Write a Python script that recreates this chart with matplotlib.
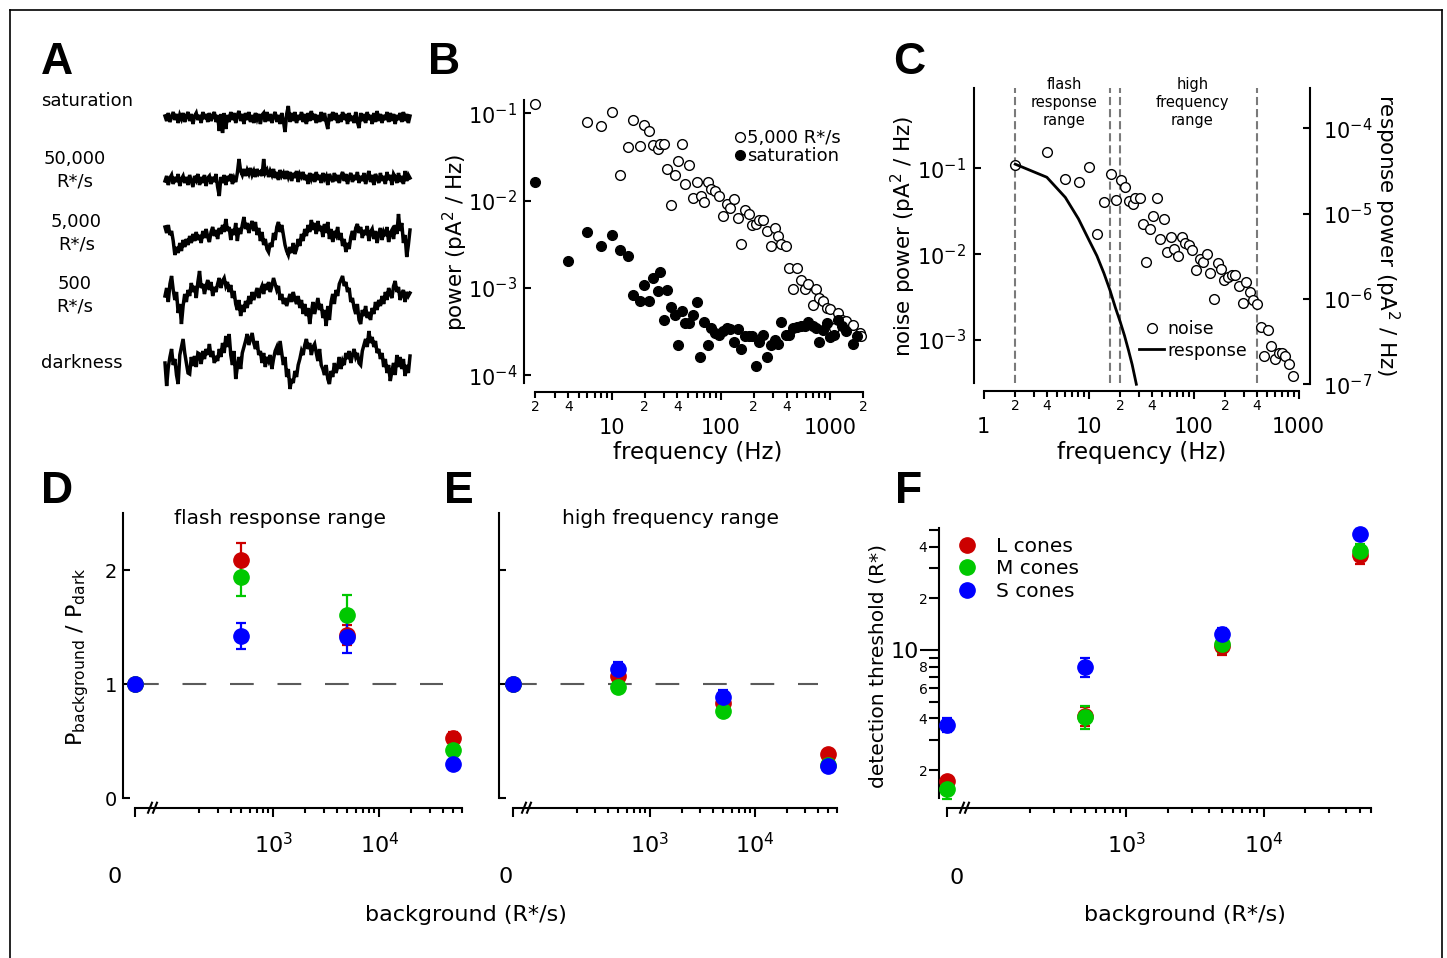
import numpy as np
import matplotlib
matplotlib.use('Agg')
import matplotlib.pyplot as plt
from matplotlib.lines import Line2D
from matplotlib.ticker import FixedLocator, FixedFormatter, NullFormatter, NullLocator

# ------------------------------------------------------------------ data
# Panel A: current traces (deflection in pixels)
trace_labels = ['saturation', '50,000\nR*/s', '5,000\nR*/s', '500\nR*/s', 'darkness']
trace_saturation = [2, -3, 5, -4, 1, 6, -2, 4, -5, 3, -1, 5, -4, 2, 6,
                    -3, 4, -6, 2, 5, -2, 3, -5, 6, -1, 4, -4, 5, -3, 2,
                    6, -4, 3, -13, 4, -15, 5, -11, 3, -4, 6, -2, 5, -5, 3,
                    7, -3, 4, -6, 5, -2, 6, -4, 3, -5, 5, -1, 4, -6, 3,
                    5, -4, 6, -3, 4, -5, 2, 6, -4, 3, -6, 5, -3, -14, 4,
                    12, -4, 5, -3, 6, -5, 3, -2, 6, -4, 4, -6, 5, -3, 7,
                    -2, 4, -5, 3, -4, 6, -3, 5, -4, -11, 4, -3, 6, -2, 5,
                    -5, 3, -4, 6, -2, 4, -6, 5, -3, 2, -5, 6, -4, -10, 5,
                    -3, 4, -5, 6, -2, 3, -6, 5, -4, 7, -3, 4, -5, 3, -2,
                    6, -4, 5, -3, 4, -6, 3, -2, 5, -4, 6, -3, 4, -5, 2]
trace_50000 = [-2, 3, -6, 1, 4, -5, 2, -3, 5, -7, 0, 3, -4, 2, -6,
               4, -2, -8, 3, -1, 5, -6, 2, -4, 4, -7, 1, 3, -5, 2,
               -3, 5, -8, -17, 2, -4, 4, -6, 3, -2, 5, -5, 1, -3, 6,
               20, 8, 4, 10, 3, 9, 5, 11, 4, 8, 2, 10, 5, 7, 3,
               20, 6, 9, 2, 8, 4, 10, 1, 7, -1, 9, 3, 6, 0, 8,
               2, 7, -2, 6, 1, 8, -3, 5, 2, 7, -1, 4, -5, 6, 0,
               5, -3, 7, -1, 4, -4, 6, 0, 3, -6, 5, 1, -3, 6, -2,
               4, -4, 3, 7, -2, 5, -5, 2, 6, -3, 4, -1, 7, -4, 3,
               -2, 6, -5, 2, 8, -3, 4, -6, 5, 1, -4, 6, -2, 3, -5,
               7, -1, 4, -6, 5, 2, -4, 6, -3, 3, -5, 8, -2, 4, 1]
trace_5000 = [10, 4, 12, 2, 6, -4, -18, -10, -16, -6, -14, -3,
              -10, -2, -8, 1, -6, 3, -4, 5, -3, 2, -6, 6,
              -1, 8, 0, -5, 5, 10, 1, 7, -2, 9, 3, 12,
              5, 18, 6, 10, -3, 8, 2, 14, -4, 9, 3, 12,
              20, 8, 14, 4, 11, 16, 6, 15, 2, 9, -4, 5,
              -8, -2, -12, -15, -6, -10, 4, -3, 10, 15, 5, 12,
              2, -8, -14, -18, -10, -16, -6, -17, -12, -2, -9, 3,
              -4, 8, 1, 12, 5, 17, 7, 14, 3, 16, 6, 11,
              0, 13, 4, 15, -2, 8, -5, 6, 2, 10, -3, 4,
              -9, -2, -15, -6, -12, 0, 6, -3, 9, 13, 4, 10,
              -1, 7, 2, 11, -4, 5, 8, -2, 6, -6, 3, 9,
              -3, 5, 1, 10, -5, 4, 7, -2, 12, 3, 23, 6,
              14, -6, 2, -20, -8, 7]
trace_500 = [0, 8, -6, 12, 20, 6, -4, 4, -17, -8, -28, -10,
             2, -6, 6, 0, 13, 4, 10, -2, 14, 25, 8, 12,
             2, 10, 16, 6, 14, 0, 9, 4, 12, 18, 8, 15,
             18, 10, 14, 4, 11, -2, 5, -8, -14, -4, -20, -9,
             -16, -5, -12, 0, -8, 4, -4, 2, 8, -2, 6, 10,
             2, 12, 6, 14, 4, 10, 18, 12, 6, 10, -4, 2,
             -8, -2, -10, -4, 2, -6, 4, -3, -8, 0, -12, -4,
             -18, -8, -20, -12, -28, -16, -6, -18, -10, -2, -14, -8,
             -22, -14, -30, -10, -24, -6, 2, -8, 6, 0, 12, 16,
             20, 10, 14, 4, 8, -6, -2, -12, -18, -8, -24, -28,
             -14, -20, -10, -22, -16, -24, -12, -18, -6, -14, -4, -10,
             0, -8, 4, -4, 8, 2, -2, 10, 15, 4, 9, -4,
             2, 6, -6, 4, 0, 3]
trace_dark = [-2, -25, -6, 4, 12, -4, 2, -14, -23, 6, 14, 22,
              8, -2, -12, -13, 4, -5, 5, -6, 8, 7, -3, 10,
              2, 12, 6, 17, 4, 10, -2, 5, 0, 12, 4, 18,
              8, 25, 14, 27, 6, -4, 10, -18, -6, 4, -8, 8,
              14, 20, 27, 16, 22, 28, 18, 12, 20, 6, 10, -2,
              8, -6, 4, 0, 6, -8, 2, 10, 14, 6, 20, 8,
              -4, 4, -16, -8, -28, -18, -22, -10, -16, -4, 2, 10,
              6, 16, 22, 12, 18, 6, 14, 17, 8, 0, 12, -4,
              -8, -14, -4, -18, -23, -10, -16, -2, -12, -6, 4, -8,
              0, -4, 8, 2, 10, -2, 6, 12, 4, 8, -2, -4,
              10, 16, 22, 14, 30, 18, 24, 14, 20, 8, 12, 2,
              8, -6, 2, -12, -4, -20, -10, -2, -14, 6, -6, 4,
              -8, 2, -15, -4, -12, 5]

# Panel B: power spectra
b_freq_5000 = [2, 6, 8, 10, 11.9, 14, 15.8, 18, 19.8, 22, 24, 26.3, 27.7, 30.3, 31.9,
               34.9, 38, 40.7, 44.3, 46.9, 51.4, 55.5, 60, 65.3, 70, 75.5, 81, 88, 96, 104,
               113, 121, 132, 142, 153, 166, 181, 194, 209, 225, 244, 266, 287, 312, 334,
               358, 393, 422, 458, 493, 538, 588, 632, 692, 738, 798, 856, 930, 1000, 1086,
               1170, 1276, 1395, 1618, 1880, 1900]
b_pow_5000 = [0.127, 0.079, 0.072, 0.105, 0.0196, 0.041, 0.085, 0.042, 0.073, 0.062,
              0.043, 0.039, 0.045, 0.044, 0.0228, 0.0088, 0.0199, 0.0285, 0.045, 0.0153,
              0.0256, 0.0107, 0.0165, 0.0113, 0.0097, 0.0165, 0.0136, 0.013, 0.0114, 0.0067,
              0.0091, 0.0083, 0.0104, 0.0063, 0.0032, 0.0079, 0.0071, 0.0052, 0.0054, 0.006,
              0.006, 0.0045, 0.003, 0.0049, 0.0039, 0.0032, 0.003, 0.0017, 0.00096, 0.0017,
              0.00123, 0.00096, 0.0011, 0.00064, 0.00098, 0.00076, 0.00071, 0.00059, 0.00057,
              0.00035, 0.00052, 0.00043, 0.00042, 0.00038, 0.0003, 0.00028]
b_freq_sat = [2, 4, 6, 8, 10, 11.9, 14, 15.8, 18, 19.9, 22, 24.1, 26.3, 27.7, 30.3, 31.9,
              34.9, 38, 40.7, 44.3, 46.9, 51, 55.5, 60, 65, 70, 75.5, 81, 88, 96, 104, 113,
              121, 132, 142, 153, 166, 181, 194, 209, 225, 244, 266, 287, 312, 334, 358, 393,
              422, 458, 493, 538, 588, 632, 692, 738, 798, 856, 930, 1000, 1086, 1170, 1276,
              1395, 1618, 1760]
b_pow_sat = [0.0165, 0.00205, 0.0044, 0.003, 0.004, 0.0027, 0.0023, 0.00083, 0.0007,
             0.00107, 0.0007, 0.0013, 0.00093, 0.0015, 0.00043, 0.00094, 0.00061, 0.00049,
             0.00022, 0.00055, 0.0004, 0.0004, 0.00049, 0.00068, 0.00016, 0.00041, 0.00022,
             0.00035, 0.0003, 0.00029, 0.00032, 0.00035, 0.00034, 0.00024, 0.00034, 0.0002,
             0.00028, 0.00028, 0.00028, 0.000127, 0.00024, 0.00029, 0.00016, 0.00022,
             0.00025, 0.00023, 0.00041, 0.00029, 0.00029, 0.00035, 0.00036, 0.00037,
             0.00037, 0.00041, 0.00037, 0.00035, 0.00024, 0.00033, 0.0004, 0.00027, 0.00029,
             0.00043, 0.00037, 0.00032, 0.00023, 0.00028]

# Panel C: noise vs response spectra
c_freq_noise = [2.0, 4.03, 5.97, 8.07, 10.1, 12.1, 14.1, 16.2, 18.1, 20.4, 22.2, 24.3, 26.3,
                27.9, 30.6, 32.7, 35.3, 38.7, 41.1, 44.6, 48.1, 52, 56.3, 60.9, 65.8, 71, 78,
                83, 90, 97, 105, 114, 123, 133, 144, 156, 169, 183, 197, 213, 231, 250, 271,
                293, 317, 344, 372, 403, 435, 472, 509, 551, 595, 645, 700, 750, 810, 890]
c_pow_noise = [0.109, 0.156, 0.075, 0.07, 0.102, 0.0172, 0.04, 0.086, 0.043, 0.072, 0.061,
               0.042, 0.038, 0.045, 0.045, 0.0223, 0.0082, 0.0195, 0.028, 0.045, 0.015,
               0.0255, 0.0105, 0.016, 0.0114, 0.0095, 0.016, 0.0134, 0.0128, 0.0112, 0.0065,
               0.0087, 0.008, 0.0101, 0.006, 0.003, 0.0078, 0.0068, 0.005, 0.0054, 0.0057,
               0.0057, 0.0043, 0.0027, 0.0047, 0.0036, 0.0029, 0.0026, 0.0014, 0.00065,
               0.0013, 0.00086, 0.0006, 0.0007, 0.0007, 0.00066, 0.00053, 0.00038]
c_freq_resp = [2, 4, 6, 8, 10, 12, 14, 16, 18, 20, 22, 24, 26, 28.5]
c_pow_resp = [3.8e-5, 2.67e-5, 1.55e-5, 8.7e-6, 5.0e-6, 3.2e-6, 2.0e-6, 1.26e-6, 7.9e-7,
              5.4e-7, 3.7e-7, 2.5e-7, 1.7e-7, 1.0e-7]
c_band_edges = [2, 16, 20, 400]

# Panels D-F
background = [0, 500, 5000, 50000]
cone_names = ['L cones', 'M cones', 'S cones']
cone_colors = ['#cc0000', '#00c800', '#0000ff']
d_ratio = {'L cones': [1.0, 2.09, 1.43, 0.53], 'M cones': [1.0, 1.94, 1.61, 0.42],
           'S cones': [1.0, 1.425, 1.41, 0.30]}
d_err = {'L cones': [0, 0.15, 0.09, 0.05], 'M cones': [0, 0.165, 0.17, 0.04],
         'S cones': [0, 0.115, 0.14, 0.04]}
e_ratio = {'L cones': [1.0, 1.074, 0.838, 0.388], 'M cones': [1.0, 0.972, 0.765, 0.29],
           'S cones': [1.0, 1.133, 0.89, 0.286]}
e_err = {'L cones': [0, 0.03, 0.03, 0.02], 'M cones': [0, 0.02, 0.02, 0.02],
         'S cones': [0, 0.065, 0.06, 0.02]}
f_thresh = {'L cones': [1.73, 4.13, 10.5, 35.7], 'M cones': [1.55, 4.09, 10.9, 37.8],
            'S cones': [3.66, 7.93, 12.35, 47.4]}
f_err = {'L cones': [0.07, 0.53, 1.2, 4.0], 'M cones': [0.19, 0.63, 1.3, 3.5],
         'S cones': [0.35, 1.0, 1.05, 3.6]}

# ------------------------------------------------------------------ layout
W, H, DPI = 1447, 958, 100
DARK_X = 50  # position used for the "0" background on the log axis

plt.rcParams['font.family'] = ['DejaVu Sans']
plt.rcParams['mathtext.default'] = 'regular'
plt.rcParams['axes.linewidth'] = 1.5

fig = plt.figure(figsize=(W / DPI, H / DPI), dpi=DPI)


def add_ax(l, t, r, b):
    return fig.add_axes([l / W, 1 - b / H, (r - l) / W, (b - t) / H])


def ftext(x, y, s, **kw):
    kw.setdefault('ha', 'center')
    kw.setdefault('va', 'center')
    return fig.text(x / W, 1 - y / H, s, **kw)


def fline(xs, ys, **kw):
    fig.add_artist(Line2D([x / W for x in xs], [1 - y / H for y in ys], **kw))


# outer frame
fline([10, 10], [958, 10], color='k', lw=1.2)
fline([10, 1441.5], [10, 10], color='k', lw=1.2)
fline([1441.5, 1441.5], [10, 958], color='k', lw=1.2)

# panel letters
for let, (x, y) in zip('ABCDEF', [(41, 74), (428, 74), (893, 74), (41, 503), (444, 503), (895, 503)]):
    ftext(x, y, let, ha='left', va='baseline', fontsize=32, fontweight='bold',
          family='Liberation Sans')

# ------------------------------------------------------------------ A
axA = add_ax(160, 95, 415, 400)
axA.set_xlim(160, 415)
axA.set_ylim(400, 95)
axA.axis('off')
traces = [trace_saturation, trace_50000, trace_5000, trace_500, trace_dark]
baselines = [118, 179, 237, 296, 361]
for vals, base in zip(traces, baselines):
    xs = np.linspace(165, 410, len(vals))
    axA.plot(xs, base - np.asarray(vals), color='k', lw=2.5, solid_joinstyle='miter')
ftext(41.5, 101.5, trace_labels[0], ha='left', fontsize=13)
for lab, (x, y) in zip(trace_labels[1:4], [(75, 170), (76.5, 233), (75, 295)]):
    ftext(x, y, lab, fontsize=13, linespacing=1.35)
ftext(41.5, 363, trace_labels[4], ha='left', fontsize=13)


def decade_minor(decs, extra=()):
    ticks, labs = [], []
    for e in decs:
        for m in range(2, 10):
            ticks.append(m * 10 ** e)
            labs.append(str(m) if m in (2, 4) else '')
    for t in extra:
        ticks.append(t)
        labs.append(str(int(round(t / 10 ** np.floor(np.log10(t))))))
    return ticks, labs


def style_freq_axis(ax, majors, major_labels, minors, minor_labels):
    ax.xaxis.set_major_locator(FixedLocator(majors))
    ax.xaxis.set_major_formatter(FixedFormatter(major_labels))
    ax.xaxis.set_minor_locator(FixedLocator(minors))
    ax.xaxis.set_minor_formatter(FixedFormatter(minor_labels))
    ax.tick_params(axis='x', which='major', direction='out', length=6, width=1.5,
                   pad=13, labelsize=15)
    ax.tick_params(axis='x', which='minor', direction='out', length=4, width=1.5,
                   pad=2, labelsize=10)


# ------------------------------------------------------------------ B
axB = add_ax(524.3, 100, 863, 391.7)
axB.set_xscale('log')
axB.set_yscale('log')
axB.set_xlim(10 ** 0.2, 2002)
axB.set_ylim(10 ** -4.19, 10 ** -0.847)
for s in ('top', 'right'):
    axB.spines[s].set_visible(False)
axB.spines['left'].set_bounds(10 ** -4.09, 10 ** -0.847)
axB.spines['bottom'].set_bounds(2, 2000)
axB.plot(b_freq_5000, b_pow_5000, 'o', mfc='white', mec='k', ms=7, mew=1, clip_on=False)
axB.plot(b_freq_sat, b_pow_sat, 'o', color='k', ms=7, clip_on=False)
mt, ml = decade_minor([0, 1, 2], extra=[2000])
style_freq_axis(axB, [10, 100, 1000], ['10', '100', '1000'], mt, ml)
axB.yaxis.set_major_locator(FixedLocator([1e-4, 1e-3, 1e-2, 1e-1]))
axB.yaxis.set_major_formatter(FixedFormatter(['$10^{-4}$', '$10^{-3}$', '$10^{-2}$', '$10^{-1}$']))
axB.yaxis.set_minor_locator(NullLocator())
axB.tick_params(axis='y', direction='in', length=5.3, width=1.5, pad=5, labelsize=15)
axB.legend(handles=[Line2D([], [], ls='none', marker='o', mfc='white', mec='k', ms=7),
                    Line2D([], [], ls='none', marker='o', color='k', ms=7)],
           labels=['5,000 R*/s', 'saturation'], loc='center left',
           bbox_to_anchor=(735.5 / W, 1 - 147 / H), bbox_transform=fig.transFigure,
           frameon=False, fontsize=13, handlelength=0.5, handletextpad=0.15,
           labelspacing=0.0, borderpad=0, borderaxespad=0)
ftext(455, 242, 'power (pA$^2$ / Hz)', rotation=90, fontsize=15.5)
ftext(698, 452, 'frequency (Hz)', fontsize=16.5)

# ------------------------------------------------------------------ C
axC = add_ax(973.9, 88.3, 1309.6, 391)
axC.set_xscale('log')
axC.set_yscale('log')
axC.set_xlim(0.808, 1274)
axC.set_ylim(10 ** -3.593, 10 ** -0.070)
for s in ('top', 'right'):
    axC.spines[s].set_visible(False)
axC.spines['left'].set_bounds(10 ** -3.503, 10 ** -0.070)
axC.spines['bottom'].set_bounds(1, 1000)
for fe in c_band_edges:
    axC.axvline(fe, ymin=0.026, ymax=1, color='#7a7a7a', lw=1.5, dashes=(3.9, 1.9), zorder=1)
axC.plot(c_freq_noise, c_pow_noise, 'o', mfc='white', mec='k', ms=7, mew=1, zorder=3)
mt, ml = decade_minor([0, 1, 2])
style_freq_axis(axC, [1, 10, 100, 1000], ['1', '10', '100', '1000'], mt, ml)
axC.yaxis.set_major_locator(FixedLocator([1e-3, 1e-2, 1e-1]))
axC.yaxis.set_major_formatter(FixedFormatter(['$10^{-3}$', '$10^{-2}$', '$10^{-1}$']))
axC.yaxis.set_minor_locator(NullLocator())
axC.tick_params(axis='y', direction='in', length=5.3, width=1.5, pad=6, labelsize=15)

axC2 = axC.twinx()
axC2.set_yscale('log')
axC2.set_ylim(10 ** -7.079, 10 ** -3.531)
for s in ('top', 'left', 'bottom'):
    axC2.spines[s].set_visible(False)
axC2.spines['right'].set_bounds(1e-7, 10 ** -3.531)
axC2.plot(c_freq_resp, c_pow_resp, color='k', lw=2)
axC2.yaxis.set_major_locator(FixedLocator([1e-7, 1e-6, 1e-5, 1e-4]))
axC2.yaxis.set_major_formatter(FixedFormatter(['$10^{-7}$', '$10^{-6}$', '$10^{-5}$', '$10^{-4}$']))
axC2.yaxis.set_minor_locator(NullLocator())
axC2.tick_params(axis='y', direction='in', length=5.3, width=1.5, pad=10, labelsize=15)
axC2.legend(handles=[Line2D([], [], ls='none', marker='o', mfc='white', mec='k', ms=7),
                     Line2D([], [], color='k', lw=2)],
            labels=['noise', 'response'], loc='center left',
            bbox_to_anchor=(1139 / W, 1 - 340 / H), bbox_transform=fig.transFigure,
            frameon=False, fontsize=12.5, handlelength=1.44, handletextpad=0.2,
            labelspacing=0.18, borderpad=0, borderaxespad=0)
ftext(1064, 102.7, 'flash\nresponse\nrange', fontsize=10.5, linespacing=1.25)
ftext(1192.5, 102.7, 'high\nfrequency\nrange', fontsize=10.5, linespacing=1.25)
ftext(903, 236, 'noise power (pA$^2$ / Hz)', rotation=90, fontsize=15.5)
ftext(1387, 235, 'response power (pA$^2$ / Hz)', rotation=270, fontsize=15.5)
ftext(1142, 452, 'frequency (Hz)', fontsize=16.5)

# ------------------------------------------------------------------ D, E, F
xpos = [DARK_X if b == 0 else b for b in background]
bg_minor = [m * 10 ** e for e in (2, 3) for m in range(2, 10)] + [2e4, 3e4, 4e4, 5e4, 6e4]


def bg_axis(ax, xl, xr):
    ax.set_xscale('log')
    ax.set_xlim(xl, xr)
    for s in ('top', 'right'):
        ax.spines[s].set_visible(False)
    ax.spines['bottom'].set_bounds(DARK_X, 6e4)
    ax.xaxis.set_major_locator(FixedLocator([DARK_X, 1e3, 1e4]))
    ax.xaxis.set_major_formatter(FixedFormatter(['', '$10^3$', '$10^4$']))
    ax.xaxis.set_minor_locator(FixedLocator(bg_minor))
    ax.xaxis.set_minor_formatter(NullFormatter())
    ax.tick_params(axis='x', which='major', direction='out', length=6.5, width=1.5,
                   pad=11, labelsize=16)
    ax.tick_params(axis='x', which='minor', direction='out', length=3.6, width=1.5)


def break_marks(x_px, y_px=807.7):
    for dx in (0, 5):
        fline([x_px + dx, x_px + dx + 4], [y_px + 5, y_px - 5], color='k', lw=1.5)


def ratio_panel(ax, vals, errs, xl, xr, show_labels):
    bg_axis(ax, xl, xr)
    ax.set_ylim(-0.082, 2.497)
    ax.spines['left'].set_bounds(0, 2.497)
    ax.hlines(1, DARK_X, 4e4, colors='#5a5a5a', lw=1.5, linestyles=(0, (11.4, 11.4)), zorder=1)
    for name, col in zip(cone_names, cone_colors):
        ax.errorbar(xpos, vals[name], yerr=errs[name], fmt='o', color=col, ms=11,
                    elinewidth=1.6, capsize=3.6, capthick=1.6, clip_on=False, zorder=3)
    ax.yaxis.set_major_locator(FixedLocator([0, 1, 2]))
    ax.yaxis.set_major_formatter(FixedFormatter(['0', '1', '2'] if show_labels else ['', '', '']))
    ax.tick_params(axis='y', direction='in', length=5.3, width=1.5, pad=4, labelsize=14)


axD = add_ax(122.7, 513.3, 462.7, 807.7)
ratio_panel(axD, d_ratio, d_err, 10 ** 1.579, 10 ** 4.787, True)
axE = add_ax(498.7, 513.3, 839, 807.7)
ratio_panel(axE, e_ratio, e_err, 10 ** 1.559, 10 ** 4.8, False)
break_marks(148)
break_marks(522)
ftext(280, 518, 'flash response range', fontsize=14.5)
ftext(671, 518, 'high frequency range', fontsize=14.5)
ftext(78, 657, 'P$_{background}$ / P$_{dark}$', rotation=90, fontsize=16)
ftext(465.5, 915, 'background (R*/s)', fontsize=16)
ftext(115, 877, '0', fontsize=16)
ftext(505.7, 877, '0', fontsize=16)

axF = add_ax(939.3, 528.3, 1373.6, 807.7)
bg_axis(axF, 10 ** 1.641, 10 ** 4.8)
axF.set_yscale('log')
axF.set_ylim(10 ** 0.0815, 10 ** 1.709)
axF.spines['left'].set_bounds(10 ** 0.136, 10 ** 1.709)
for name, col in zip(cone_names, cone_colors):
    axF.errorbar(xpos, f_thresh[name], yerr=f_err[name], fmt='o', color=col, ms=11,
                 elinewidth=1.6, capsize=3.6, capthick=1.6, clip_on=False, zorder=3)
axF.yaxis.set_major_locator(FixedLocator([10]))
axF.yaxis.set_major_formatter(FixedFormatter(['10']))
f_minor = [2, 3, 4, 5, 6, 7, 8, 9, 20, 30, 40, 50]
axF.yaxis.set_minor_locator(FixedLocator(f_minor))
axF.yaxis.set_minor_formatter(FixedFormatter(['2', '', '4', '', '6', '', '8', '', '2', '', '4', '']))
axF.tick_params(axis='y', which='major', direction='out', length=14, width=1.5, pad=1, labelsize=16)
axF.tick_params(axis='y', which='minor', direction='out', length=7, width=1.5, pad=1.5, labelsize=10)
break_marks(960)
axF.legend(handles=[Line2D([], [], ls='none', marker='o', color=c, ms=11) for c in cone_colors],
           labels=cone_names, loc='center left',
           bbox_to_anchor=(957 / W, 1 - 568.7 / H), bbox_transform=fig.transFigure,
           frameon=False, fontsize=14.5, handlelength=1.0, handletextpad=0.93,
           labelspacing=0.18, borderpad=0, borderaxespad=0)
ftext(878, 666, 'detection threshold (R*)', rotation=90, fontsize=14.6)
ftext(1185, 915, 'background (R*/s)', fontsize=16)
ftext(956.4, 878, '0', fontsize=16)

fig.savefig('out.png', dpi=DPI)
